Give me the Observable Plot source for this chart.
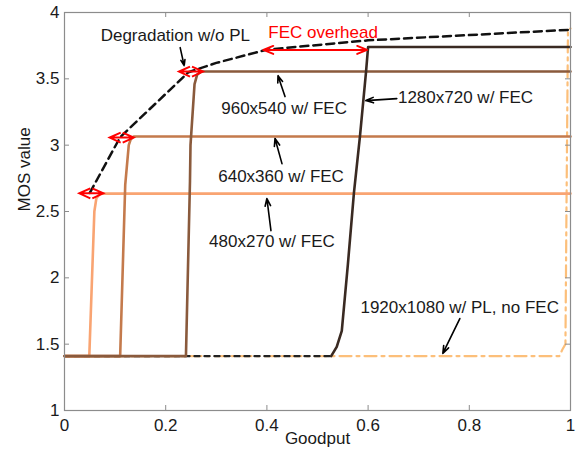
<!DOCTYPE html>
<html><head><meta charset="utf-8">
<script src="https://cdn.jsdelivr.net/npm/d3@7"></script>
<script src="https://cdn.jsdelivr.net/npm/@observablehq/plot@0.6"></script>
<style>body{margin:0;background:#fff}</style>
</head><body><div id="chart"></div>
<script>
// ---- data (goodput, MOS) ----
const xTicks = [0, 0.2, 0.4, 0.6, 0.8, 1];
const yTicks = [1, 1.5, 2, 2.5, 3, 3.5, 4];

const degGoodput = [0.05, 0.11, 0.245, 0.3, 0.4, 0.6, 0.8, 1];
const degMOS     = [2.64, 3.06, 3.55, 3.62, 3.72, 3.79, 3.83, 3.87];

const baseGoodput = [0, 0.527];
const baseMOS     = [1.41, 1.41];

const c480Goodput = [0, 0.049, 0.059, 0.063, 0.07, 1];
const c480MOS     = [1.41, 1.41, 2.5, 2.6, 2.635, 2.635];

const c640Goodput = [0, 0.11, 0.12, 0.127, 0.131, 0.137, 1];
const c640MOS     = [1.41, 1.41, 2.7, 3.0, 3.045, 3.065, 3.065];

const c960Goodput = [0, 0.24, 0.248, 0.249, 0.257, 0.262, 0.27, 1];
const c960MOS     = [1.41, 1.41, 2.73, 3.0, 3.46, 3.53, 3.555, 3.555];

const c1280Goodput = [0.527, 0.538, 0.548, 0.56, 0.572, 0.584, 0.596, 0.6, 1];
const c1280MOS     = [1.41, 1.48, 1.6, 2.1, 2.64, 3.07, 3.556, 3.74, 3.74];

const c1920Goodput = [0, 0.978, 0.984, 0.99, 0.992, 0.995, 1];
const c1920MOS     = [1.41, 1.41, 1.46, 1.5, 2.5, 3.87, 3.88];

// red double-headed markers (small) and the FEC overhead arrow (big)
const diamondX = [0.053, 0.113, 0.25];
const diamondY = [2.637, 3.057, 3.555];
const overheadX1 = 0.393, overheadX2 = 0.598, overheadArrowY = 3.718;

// labels
const labelText = ["Degradation w/o PL", "960x540 w/ FEC", "640x360 w/ FEC", "480x270 w/ FEC", "1920x1080 w/ PL, no FEC"];
const labelX    = [0.219, 0.434, 0.428, 0.410, 0.781];
const labelY    = [3.826, 3.276, 2.763, 2.274, 1.776];
const label1280 = "1280x720 w/ FEC";
const label1280X = 0.659, label1280Y = 3.359;

// annotation arrows (tail -> tip)
const annX1 = [0.2286, 0.4358, 0.4298, 0.408, 0.6567, 0.7813];
const annY1 = [3.735, 3.366, 2.861, 2.356, 3.351, 1.693];
const annX2 = [0.2365, 0.4219, 0.4160, 0.400, 0.5955, 0.7477];
const annY2 = [3.600, 3.524, 3.050, 2.598, 3.336, 1.430];

const overheadText = "FEC overhead";
const overheadTextX = 0.511, overheadTextY = 3.849;

// ---- build ----
const W = 581, H = 456, mL = 64, mR = 11, mT = 12, mB = 46;
const fw = W - mL - mR, fh = H - mT - mB;
const pts = (xs, ys) => xs.map((x, i) => ({x, y: ys[i]}));

const diamonds = pts(diamondX, diamondY);
const overheadMid = (overheadX1 + overheadX2) / 2;
const overhead = [
  {x1: overheadMid, x2: overheadX1, y: overheadArrowY},
  {x1: overheadMid, x2: overheadX2, y: overheadArrowY}
];
const labels = labelText.map((t, i) => ({t, x: labelX[i], y: labelY[i]}));
const ann = annX1.map((x1, i) => ({x1, y1: annY1[i], x2: annX2[i], y2: annY2[i]}));

// double-headed arrow glyph (two arrowheads meeting, forming a diamond)
const doubleArrow = {
  draw(ctx) {
    ctx.moveTo(-12, 0); ctx.lineTo(12, 0);
    ctx.moveTo(-1, -5); ctx.lineTo(-12, 0); ctx.lineTo(-1, 5);
    ctx.moveTo(1, -5); ctx.lineTo(12, 0); ctx.lineTo(1, 5);
  }
};

const font = "Liberation Sans, Arial, sans-serif";
const ink = "#1a1a1a";
const grey = "#8c8c8c";
const fmt = d => String(d);

const chart = Plot.plot({
  width: W, height: H,
  marginLeft: mL, marginRight: mR, marginTop: mT, marginBottom: mB,
  style: {fontFamily: font, fontSize: "17px", color: ink, background: "#fff"},
  x: {domain: [0, 1]},
  y: {domain: [1, 4]},
  marks: [
    Plot.line(pts(c1920Goodput, c1920MOS), {x: "x", y: "y", stroke: "#fcbf7a", strokeWidth: 2.2, strokeDasharray: "12,5,3,5"}),
    Plot.line(pts(baseGoodput, baseMOS), {x: "x", y: "y", stroke: "#222", strokeWidth: 2.4, strokeDasharray: "5,5"}),
    Plot.line(pts(c480Goodput, c480MOS), {x: "x", y: "y", stroke: "#f9a472", strokeWidth: 2.6}),
    Plot.line(pts(c640Goodput, c640MOS), {x: "x", y: "y", stroke: "#c47a4c", strokeWidth: 2.6}),
    Plot.line(pts(c960Goodput, c960MOS), {x: "x", y: "y", stroke: "#8a5a3c", strokeWidth: 2.6}),
    Plot.line(pts(c1280Goodput, c1280MOS), {x: "x", y: "y", stroke: "#3a2a22", strokeWidth: 2.6}),
    Plot.line(pts(degGoodput, degMOS), {x: "x", y: "y", stroke: "#111", strokeWidth: 2.5, strokeDasharray: "8,5"}),
    // red markers
    Plot.dot(diamonds, {x: "x", y: "y", symbol: doubleArrow, r: 5, stroke: "#ff0000", fill: "none", strokeWidth: 2}),
    Plot.arrow(overhead, {x1: "x1", x2: "x2", y1: "y", y2: "y", stroke: "#ff0000", strokeWidth: 2, headLength: 8, headAngle: 44}),
    // annotation arrows
    Plot.arrow(ann, {x1: "x1", y1: "y1", x2: "x2", y2: "y2", stroke: "#000", strokeWidth: 1.6, headLength: 7.5, headAngle: 40}),
    Plot.text(labels, {x: "x", y: "y", text: "t", fill: ink, fontSize: 17}),
    Plot.text([label1280], {x: label1280X, y: label1280Y, text: d => d, textAnchor: "start", fill: ink, fontSize: 17}),
    Plot.text([overheadText], {x: overheadTextX, y: overheadTextY, text: d => d, fill: "#ff0000", fontSize: 17}),
    // frame + inward ticks
    Plot.frame({stroke: grey, strokeWidth: 1.2}),
    Plot.tickX(xTicks.slice(1, -1), {x: d => d, stroke: grey, insetTop: fh - 5}),
    Plot.tickX(xTicks.slice(1, -1), {x: d => d, stroke: grey, insetBottom: fh - 5}),
    Plot.tickY(yTicks.slice(1, -1), {y: d => d, stroke: grey, insetRight: fw - 5}),
    Plot.tickY(yTicks.slice(1, -1), {y: d => d, stroke: grey, insetLeft: fw - 5}),
    Plot.axisX(xTicks, {tickSize: 0, tickPadding: 8, tickFormat: fmt, label: null, fill: ink, fontSize: 17}),
    Plot.axisY(yTicks, {tickSize: 0, tickPadding: 5, tickFormat: fmt, label: null, fill: ink, fontSize: 17}),
    Plot.text(["Goodput"], {frameAnchor: "bottom", dy: 33.5, text: d => d, fill: ink, fontSize: 17}),
    Plot.text(["MOS value"], {frameAnchor: "left", dx: -39.5, rotate: -90, text: d => d, fill: ink, fontSize: 17})
  ]
});
document.getElementById("chart").appendChild(chart);
</script>
</body></html>
